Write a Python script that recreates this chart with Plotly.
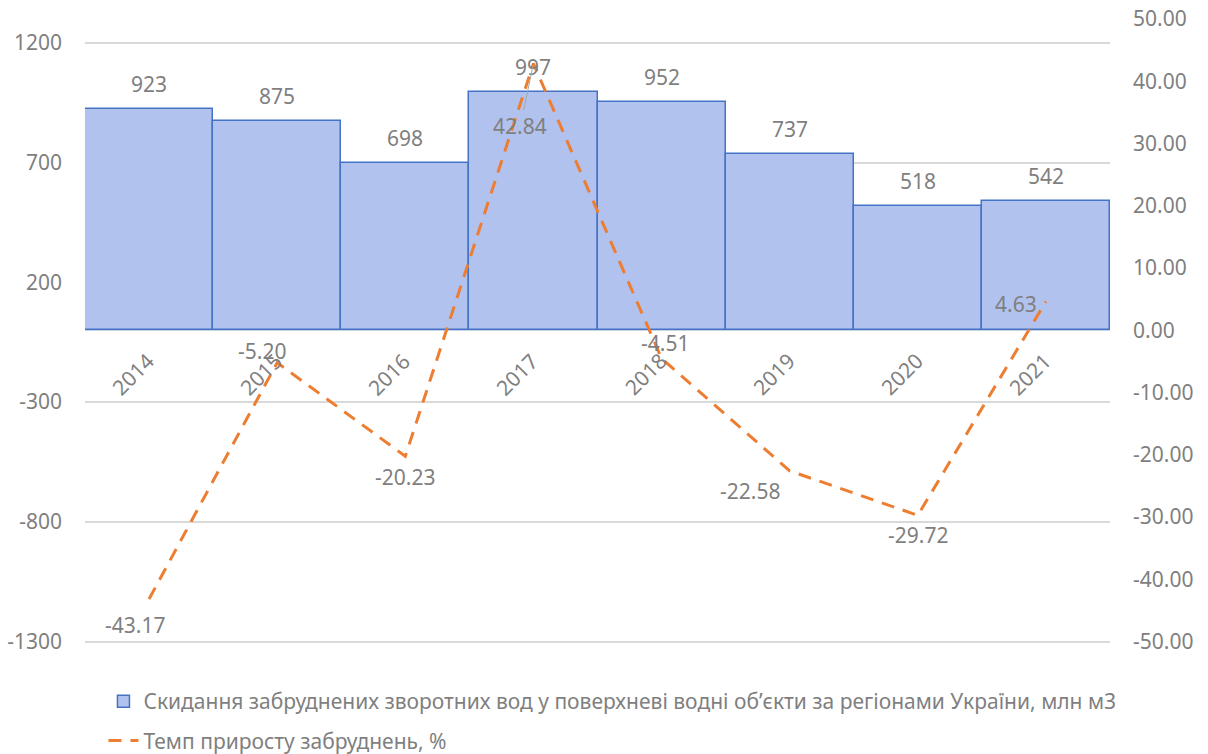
import plotly.graph_objects as go

years = ["2014", "2015", "2016", "2017", "2018", "2019", "2020", "2021"]
discharge = [923, 875, 698, 997, 952, 737, 518, 542]
growth = [-43.17, -5.20, -20.23, 42.84, -4.51, -22.58, -29.72, 4.63]
growth_labels = ["-43.17", "-5.20", "-20.23", "42.84", "-4.51", "-22.58", "-29.72", "4.63"]
label_dx = [-14, -15, 0, -13, 3, -40, 0, -30]
label_dy = [-26, 12, -21, -62, 15, -20, -20, -3]

left_ticks = [-1300, -800, -300, 200, 700, 1200]
left_ticktext = ["-1300", "-800", "-300", "200", "700", "1200"]
right_ticks = [-50, -40, -30, -20, -10, 0, 10, 20, 30, 40, 50]
right_ticktext = ["-50.00", "-40.00", "-30.00", "-20.00", "-10.00", "0.00",
                  "10.00", "20.00", "30.00", "40.00", "50.00"]

bar_name = "Скидання забруднених зворотних вод у поверхневі водні об’єкти за регіонами України, млн м3"
line_name = "Темп приросту забруднень, %"

FONT = "Noto Sans"
GRAY = "#7F7F7F"
FS = 21

fig = go.Figure()
fig.add_trace(go.Bar(
    x=years, y=discharge, name=bar_name, yaxis="y", legendgroup="a",
    marker=dict(color="rgb(178,194,238)", line=dict(color="#4472C4", width=1.5)),
))
fig.add_trace(go.Scatter(
    x=years, y=growth, name=line_name, yaxis="y2", mode="lines", legendgroup="b",
    line=dict(color="#ED7D31", width=3, dash="13px,9px"),
))

annotations = []
# category labels at the zero line (category axis positions given by index)
for i, yr in enumerate(years):
    annotations.append(dict(x=i, y=0, xref="x", yref="y", text=yr, showarrow=False,
                            textangle=-45, xanchor="center", yanchor="middle",
                            xshift=-16, yshift=-44,
                            font=dict(family=FONT, size=FS, color=GRAY)))
for i, v in enumerate(discharge):
    annotations.append(dict(x=i, y=v, xref="x", yref="y", text=str(v), showarrow=False,
                            yshift=25, font=dict(family=FONT, size=FS, color=GRAY)))
for i, (v, t, dx, dy) in enumerate(zip(growth, growth_labels, label_dx, label_dy)):
    if t == "42.84":
        annotations.append(dict(x=i, y=v, xref="x", yref="y2", text=t, showarrow=True,
                                arrowhead=0, arrowwidth=1, arrowcolor="#A6A6A6",
                                ax=dx, ay=-dy, standoff=4,
                                font=dict(family=FONT, size=FS, color=GRAY)))
    else:
        annotations.append(dict(x=i, y=v, xref="x", yref="y2", text=t, showarrow=False,
                                xshift=dx, yshift=dy, font=dict(family=FONT, size=FS, color=GRAY)))

fig.update_layout(
    width=1208, height=754,
    margin=dict(l=85, r=98, t=19, b=111, autoexpand=False),
    paper_bgcolor="white", plot_bgcolor="white",
    bargap=0,
    font=dict(family=FONT, size=FS, color=GRAY),
    showlegend=True,
    legend=dict(x=0.018, y=-0.061, xanchor="left", yanchor="top", orientation="v",
                tracegroupgap=9, font=dict(family=FONT, size=FS, color=GRAY),
                bgcolor="rgba(0,0,0,0)"),
    xaxis=dict(type="category", categoryorder="array", categoryarray=years,
               range=[-0.5, len(years) - 0.5], autorange=False,
               showline=False, showticklabels=False,
               ticks="", showgrid=False, automargin=False),
    yaxis=dict(range=[-1306, 1300], tickvals=left_ticks, ticktext=left_ticktext,
               showgrid=True, gridcolor="#D9D9D9", gridwidth=1.5,
               zeroline=True, zerolinecolor="#C9D3E8", zerolinewidth=1.5,
               showline=False, ticks="", automargin=False, ticklabeloverflow="allow",
               tickfont=dict(family=FONT, size=FS, color=GRAY), ticklabelstandoff=22),
    yaxis2=dict(range=[-50.23, 50], tickvals=right_ticks, ticktext=right_ticktext,
                overlaying="y", side="right", automargin=False, ticklabeloverflow="allow",
                showgrid=False, zeroline=False, showline=False, ticks="",
                tickfont=dict(family=FONT, size=FS, color=GRAY), ticklabelstandoff=22),
    annotations=annotations,
)

fig.write_html("out.html", config={"displayModeBar": False},
               post_script="document.body.style.margin='0';")
